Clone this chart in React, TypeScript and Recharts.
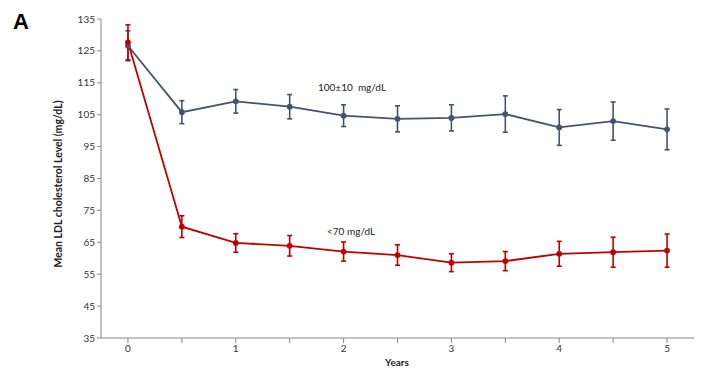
import { LineChart, Line, XAxis, YAxis, ErrorBar } from "recharts";

const years = [0, 0.5, 1, 1.5, 2, 2.5, 3, 3.5, 4, 4.5, 5];
const blueMean = [126.6, 105.8, 109.2, 107.5, 104.7, 103.7, 104.0, 105.2, 101.0, 103.0, 100.4];
const blueErr = [4.7, 3.6, 3.7, 3.8, 3.4, 4.1, 4.1, 5.7, 5.6, 6.0, 6.4];
const redMean = [127.7, 69.9, 64.8, 63.9, 62.1, 61.0, 58.6, 59.1, 61.4, 61.9, 62.4];
const redErr = [5.5, 3.4, 2.9, 3.2, 3.0, 3.2, 2.8, 3.0, 3.9, 4.7, 5.2];
const yTicks = [35, 45, 55, 65, 75, 85, 95, 105, 115, 125, 135];

const BLUE = "#44546A";
const RED = "#C00000";
const AXIS = "#868686";
const FONT = "Lato, 'Open Sans', sans-serif";

const data = years.map((y, i) => ({
  year: y,
  blue: blueMean[i],
  blueErr: blueErr[i],
  red: redMean[i],
  redErr: redErr[i],
}));

export default function App() {
  return (
    <div style={{ position: "absolute", left: 0, top: 0, width: 705, height: 374, background: "#fff", fontFamily: FONT }}>
      <LineChart width={705} height={374} data={data} margin={{ top: 19, right: 11, bottom: 0, left: 0 }}>
        <XAxis
          dataKey="year"
          type="number"
          domain={[-0.25, 5.25]}
          ticks={years}
          tickFormatter={(v) => (Number.isInteger(v) ? String(v) : "")}
          height={36}
          stroke={AXIS}
          tickSize={5}
          tick={{ fill: "#333", fontSize: 10, fontFamily: FONT }}
        />
        <YAxis
          type="number"
          domain={[35, 135]}
          ticks={yTicks}
          width={101}
          stroke={AXIS}
          tickSize={4}
          tick={{ fill: "#333", fontSize: 10, fontFamily: FONT }}
        />
        <Line
          dataKey="blue"
          stroke={BLUE}
          strokeWidth={1.8}
          dot={{ r: 2, fill: BLUE, stroke: BLUE }}
          isAnimationActive={false}
        >
          <ErrorBar dataKey="blueErr" direction="y" width={2.5} stroke={BLUE} strokeWidth={1.6} />
        </Line>
        <Line
          dataKey="red"
          stroke={RED}
          strokeWidth={1.8}
          dot={{ r: 2, fill: RED, stroke: RED }}
          isAnimationActive={false}
        >
          <ErrorBar dataKey="redErr" direction="y" width={2.5} stroke={RED} strokeWidth={1.6} />
        </Line>
      </LineChart>
      <div style={{ position: "absolute", left: 13, top: 9, fontFamily: "'Liberation Sans', Arial, sans-serif", fontWeight: 700, fontSize: 22, color: "#000" }}>
        A
      </div>
      <div
        style={{
          position: "absolute",
          left: 58,
          top: 184,
          transform: "translate(-50%, -50%) rotate(-90deg)",
          whiteSpace: "nowrap",
          fontWeight: 700,
          fontSize: 10.5,
          color: "#222",
        }}
      >
        Mean LDL cholesterol Level (mg/dL)
      </div>
      <div style={{ position: "absolute", left: 397, top: 362, transform: "translate(-50%, -50%)", fontWeight: 700, fontSize: 10, color: "#222" }}>
        Years
      </div>
      <div style={{ position: "absolute", left: 352, top: 87, transform: "translate(-50%, -50%)", whiteSpace: "nowrap", fontSize: 10, color: "#222" }}>
        100±10&nbsp; mg/dL
      </div>
      <div style={{ position: "absolute", left: 327, top: 231, transform: "translate(0, -50%)", whiteSpace: "nowrap", fontSize: 10, color: "#222" }}>
        &lt;70 mg/dL
      </div>
    </div>
  );
}
